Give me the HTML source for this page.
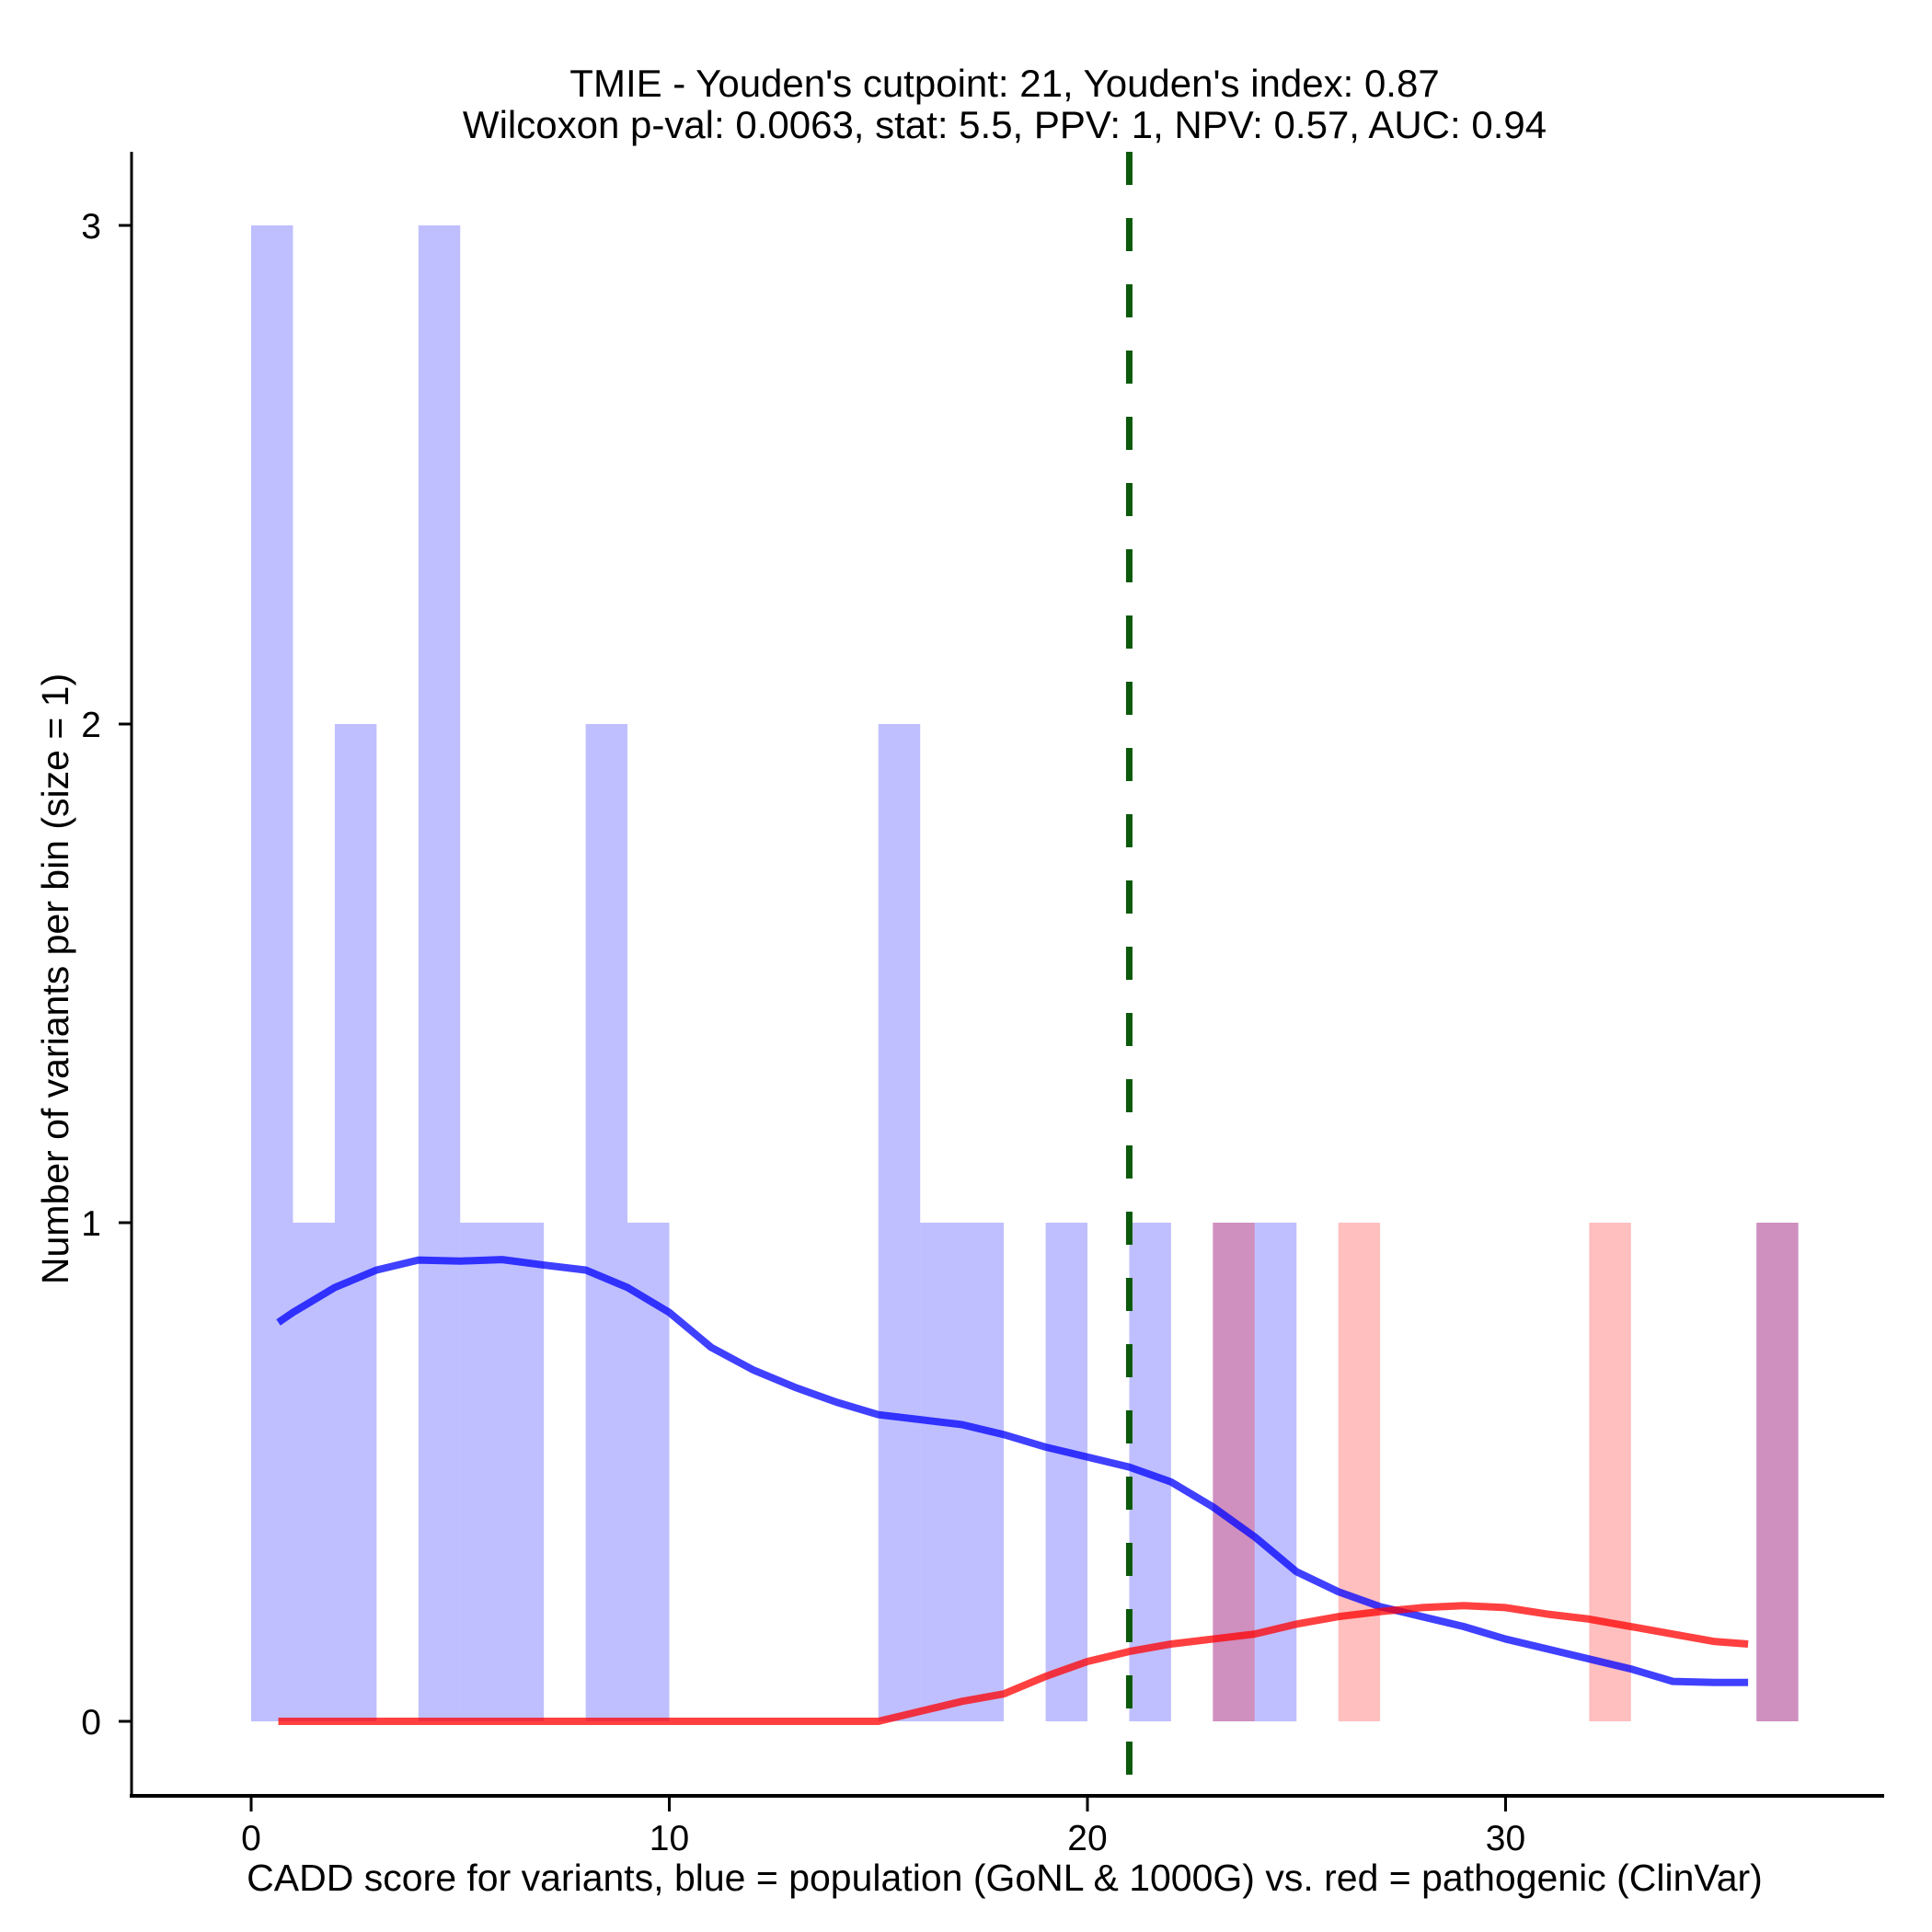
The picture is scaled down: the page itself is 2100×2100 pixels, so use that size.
<!DOCTYPE html>
<html><head><meta charset="utf-8"><style>
html,body{margin:0;padding:0;background:#fff;}
svg{display:block;font-family:"Liberation Sans",Arial,sans-serif;}
</style></head><body>
<svg id="chart" width="2100" height="2100" viewBox="0 0 2100 2100">
<g id="bars"></g>
<g id="lines"></g>
<g id="axes"></g>
<text x="1092" y="105" font-size="42" text-anchor="middle">TMIE - Youden's cutpoint: 21, Youden's index: 0.87</text>
<text x="1092" y="150" font-size="42" text-anchor="middle">Wilcoxon p-val: 0.0063, stat: 5.5, PPV: 1, NPV: 0.57, AUC: 0.94</text>
<text x="1092" y="2055" font-size="41" text-anchor="middle">CADD score for variants, blue = population (GoNL &amp; 1000G) vs. red = pathogenic (ClinVar)</text>
<text transform="translate(74,1064) rotate(-90)" font-size="41" text-anchor="middle">Number of variants per bin (size = 1)</text>
</svg>
<script>
const blueBins = [0,1,2,4,5,6,8,9,15,16,17,19,21,23,24,36];
const blueCounts = [3,1,2,3,1,1,2,1,2,1,1,1,1,1,1,1];
const redBins = [23,26,32,36];
const redCounts = [1,1,1,1];
const densX = [0.65,1,2,3,4,5,6,7,8,9,10,11,12,13,14,15,16,17,18,19,20,21,22,23,24,25,26,27,28,29,30,31,32,33,34,35,35.8];
const blueDens = [0.80,0.82,0.87,0.905,0.925,0.923,0.926,0.915,0.905,0.87,0.82,0.75,0.705,0.67,0.64,0.615,0.605,0.595,0.575,0.55,0.53,0.51,0.48,0.43,0.37,0.30,0.26,0.23,0.21,0.19,0.165,0.145,0.125,0.105,0.08,0.078,0.078];
const redDens = [0,0,0,0,0,0,0,0,0,0,0,0,0,0,0,0,0.02,0.04,0.055,0.09,0.12,0.14,0.155,0.165,0.175,0.195,0.21,0.22,0.228,0.232,0.228,0.215,0.205,0.19,0.175,0.16,0.155];
const xTicks = [0,10,20,30];
const yTicks = [0,1,2,3];
const cutpoint = 21;

const NS="http://www.w3.org/2000/svg";
const X = v => 273 + v*45.45;
const Y = v => 1871 - v*542;
function mk(tag, attrs, parent){const e=document.createElementNS(NS,tag);for(const k in attrs)e.setAttribute(k,attrs[k]);parent.appendChild(e);return e;}
const bars=document.getElementById('bars'), lines=document.getElementById('lines'), axes=document.getElementById('axes');
blueBins.forEach((b,i)=>{
  const r=mk('rect',{x:X(b),y:Y(blueCounts[i]),width:X(b+1)-X(b),height:Y(0)-Y(blueCounts[i]),fill:'rgba(0,0,255,0.25)'},bars);
  
  
});
redBins.forEach((b,i)=>{
  const r=mk('rect',{x:X(b),y:Y(redCounts[i]),width:X(b+1)-X(b),height:Y(0)-Y(redCounts[i]),fill:'rgba(255,0,0,0.25)'},bars);
  
  
});
function poly(vals,color,name){
  const p=mk('polyline',{points:densX.map((x,i)=>X(x)+','+Y(vals[i])).join(' '),fill:'none',stroke:color,'stroke-width':8,'stroke-linejoin':'round'},lines);
  
  
}
poly(blueDens,'rgba(0,0,255,0.75)','blue-density-line');
poly(redDens,'rgba(255,0,0,0.75)','red-density-line');
const cut=mk('line',{x1:X(cutpoint),x2:X(cutpoint),y1:165,y2:1952,stroke:'#0b5a0b','stroke-width':7,'stroke-dasharray':'36 36'},lines);


const ya=mk('line',{x1:143,x2:143,y1:165,y2:1954,stroke:'#000','stroke-width':3},axes);


const xa=mk('line',{x1:141,x2:2048,y1:1952,y2:1952,stroke:'#000','stroke-width':4},axes);


xTicks.forEach(t=>{
  const l=mk('line',{x1:X(t),x2:X(t),y1:1952,y2:1969,stroke:'#000','stroke-width':3},axes);
  
  
  const tx=mk('text',{x:X(t),y:2011,'font-size':39,'text-anchor':'middle'},axes);
  tx.textContent=t;
  
  
});
yTicks.forEach(t=>{
  const l=mk('line',{x1:129,x2:143,y1:Y(t),y2:Y(t),stroke:'#000','stroke-width':3},axes);
  
  
  const tx=mk('text',{x:110,y:Y(t)+14,'font-size':39,'text-anchor':'end'},axes);
  tx.textContent=t;
  
  
});
</script>
</body></html>
